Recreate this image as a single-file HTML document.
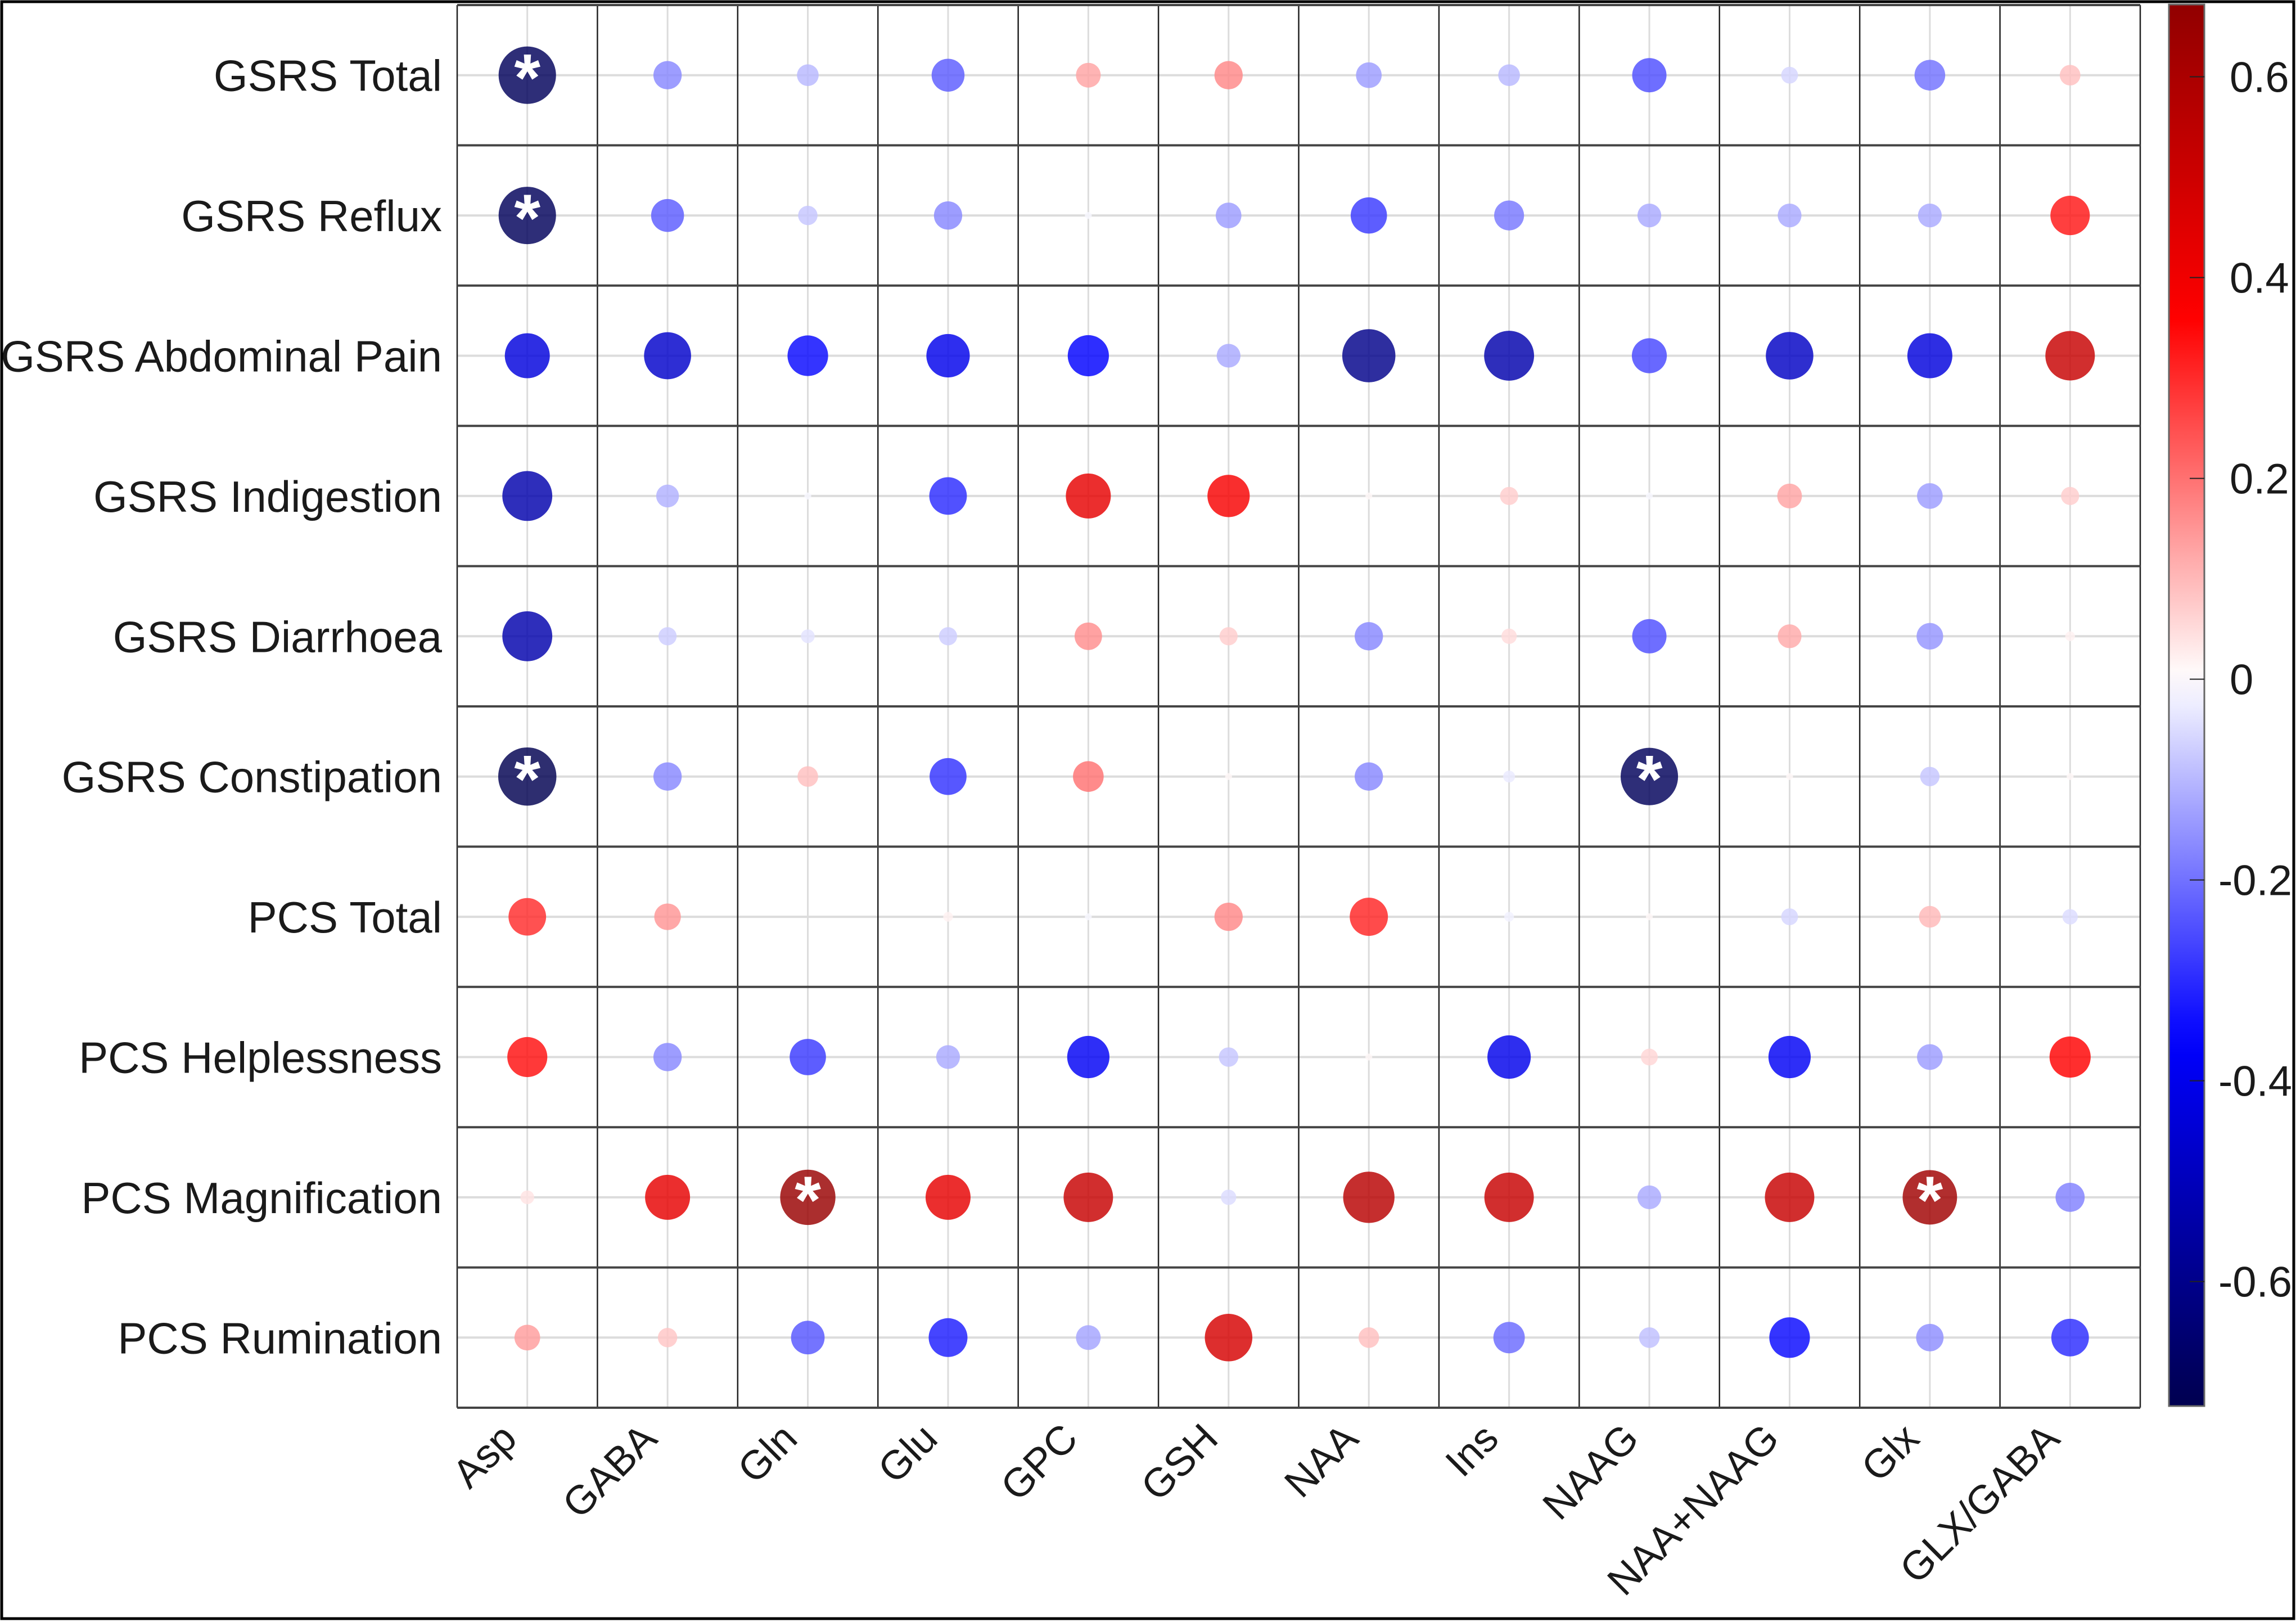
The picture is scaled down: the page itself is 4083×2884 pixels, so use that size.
<!DOCTYPE html>
<html><head><meta charset="utf-8"><style>
html,body{margin:0;padding:0;background:#fff}
svg{display:block}
text{font-family:"Liberation Sans",Arial,sans-serif;fill:#1a1a1a}
</style></head><body>
<svg id="chart" xmlns="http://www.w3.org/2000/svg" width="4083" height="2884" viewBox="0 0 4083 2884">
<rect x="0" y="0" width="4083" height="2884" fill="#fff"/>
<g id="grid"></g>
<g id="marks"></g>
<g id="labels"></g>
<g id="cbar"></g>
<rect x="3" y="3" width="4076" height="2875" fill="none" stroke="#000" stroke-width="5"/>
</svg>
<script>
const rowLabels = ["GSRS Total","GSRS Reflux","GSRS Abdominal Pain","GSRS Indigestion","GSRS Diarrhoea","GSRS Constipation","PCS Total","PCS Helplessness","PCS Magnification","PCS Rumination"];
const colLabels = ["Asp","GABA","Gln","Glu","GPC","GSH","NAA","Ins","NAAG","NAA+NAAG","Glx","GLX/GABA"];
const rGsrsTotal   = [-0.70,-0.17,-0.10,-0.23, 0.13, 0.17,-0.14,-0.10,-0.25,-0.06,-0.20, 0.09];
const rGsrsReflux  = [-0.70,-0.23,-0.08,-0.17,-0.01,-0.14,-0.28,-0.19,-0.12,-0.12,-0.12, 0.33];
const rGsrsAbd     = [-0.43,-0.47,-0.35,-0.40,-0.36,-0.12,-0.60,-0.53,-0.26,-0.48,-0.43, 0.52];
const rGsrsIndig   = [-0.53,-0.11,-0.01,-0.30, 0.43, 0.38, 0.01, 0.07,-0.01, 0.13,-0.14, 0.07];
const rGsrsDiarr   = [-0.53,-0.07,-0.04,-0.07, 0.16, 0.07,-0.17, 0.05,-0.25, 0.12,-0.15, 0.02];
const rGsrsConst   = [-0.72,-0.17, 0.09,-0.29, 0.20, 0.01,-0.17,-0.03,-0.70, 0.01,-0.08, 0.01];
const rPcsTotal    = [ 0.30, 0.15, 0.00, 0.02,-0.01, 0.17, 0.31,-0.02, 0.01,-0.06, 0.10,-0.05];
const rPcsHelp     = [ 0.34,-0.17,-0.28,-0.12,-0.38,-0.08, 0.01,-0.40, 0.06,-0.38,-0.14, 0.36];
const rPcsMagn     = [ 0.04, 0.43, 0.65, 0.43, 0.52,-0.05, 0.56, 0.52,-0.12, 0.52, 0.63,-0.18];
const rPcsRumin    = [ 0.14, 0.08,-0.24,-0.32,-0.13, 0.48, 0.09,-0.21,-0.09,-0.35,-0.16,-0.30];
const values = [rGsrsTotal,rGsrsReflux,rGsrsAbd,rGsrsIndig,rGsrsDiarr,rGsrsConst,rPcsTotal,rPcsHelp,rPcsMagn,rPcsRumin];
const sigCells = [[0,0],[1,0],[5,0],[5,8],[8,2],[8,10]];
const cbarTicks = [0.6,0.4,0.2,0,-0.2,-0.4,-0.6];
const cbarMin = -0.724, cbarMax = 0.672;

const NS="http://www.w3.org/2000/svg";
const L=813, R=3806, T=9, B=2503;
const cw=(R-L)/colLabels.length, rh=(B-T)/rowLabels.length;
const xC=i=>L+(i+0.5)*cw, yC=j=>T+(j+0.5)*rh;
const CB={x:3857,w:63,top:8,bot:2500};
const yCb=v=>CB.top+(cbarMax-v)/(cbarMax-cbarMin)*(CB.bot-CB.top);
const stops=[[-0.72,[0,0,80]],[-0.36,[0,0,255]],[0,[255,255,255]],[0.36,[255,0,0]],[0.72,[128,0,0]]];
function color(v){
  v=Math.max(-0.72,Math.min(0.72,v));
  for(let k=0;k<stops.length-1;k++){const [a,ca]=stops[k],[b,cb]=stops[k+1];
    if(v>=a&&v<=b){const t=(v-a)/(b-a);return 'rgb('+ca.map((c,i)=>Math.round(c+(cb[i]-c)*t)).join(',')+')';}}
  return '#fff';
}
function mk(tag,attrs,parent){const e=document.createElementNS(NS,tag);for(const k in attrs)e.setAttribute(k,attrs[k]);parent.appendChild(e);return e;}
const grid=document.getElementById('grid'),marks=document.getElementById('marks'),labels=document.getElementById('labels'),cbar=document.getElementById('cbar');

colLabels.forEach((c,i)=>{const e=mk('line',{x1:xC(i),x2:xC(i),y1:T,y2:B,stroke:'#dcdcdc','stroke-width':3},grid);

});
rowLabels.forEach((r,j)=>{const e=mk('line',{x1:L,x2:R,y1:yC(j),y2:yC(j),stroke:'#dcdcdc','stroke-width':4},grid);

});
for(let i=0;i<=colLabels.length;i++){const e=mk('line',{x1:L+i*cw,x2:L+i*cw,y1:T,y2:B,stroke:'#222','stroke-width':2.5},grid);

}
for(let j=0;j<=rowLabels.length;j++){const e=mk('line',{x1:L,x2:R,y1:T+j*rh,y2:T+j*rh,stroke:'#444','stroke-width':4},grid);

}

values.forEach((row,j)=>row.forEach((v,i)=>{
  const r=61*Math.sqrt(Math.abs(v));
  const c=mk('circle',{cx:xC(i),cy:yC(j),r:r,fill:color(v),'fill-opacity':0.82},marks);
  
  
}));
sigCells.forEach(([j,i])=>{
  const t=mk('text',{x:xC(i),y:yC(j)+46,'text-anchor':'middle','font-size':120,'font-weight':'bold',style:'fill:#fff'},marks);
  t.textContent='*';
  
  
});

rowLabels.forEach((s,j)=>{const t=mk('text',{x:786,y:yC(j)+28,'text-anchor':'end','font-size':78},labels);
t.textContent=s;

});
colLabels.forEach((s,i)=>{const x=xC(i)-15,y=2562;
const t=mk('text',{x:x,y:y,'text-anchor':'end','font-size':72,transform:`rotate(-45 ${x} ${y})`},labels);
t.textContent=s;

});

const defs=mk('defs',{},cbar);
const lg=mk('linearGradient',{id:'cg',x1:0,y1:0,x2:0,y2:1},defs);
for(let k=0;k<=40;k++){const v=cbarMax-(cbarMax-cbarMin)*k/40;mk('stop',{offset:(k/40),'stop-color':color(v)},lg);}
const bar=mk('rect',{x:CB.x,y:CB.top,width:CB.w,height:CB.bot-CB.top,fill:'url(#cg)',stroke:'#666','stroke-width':3},cbar);


cbarTicks.forEach(v=>{const y=yCb(v);
const l=mk('line',{x1:CB.x+CB.w-26,x2:CB.x+CB.w,y1:y,y2:y,stroke:'#222','stroke-width':2},cbar);


const t=mk('text',{x:v<0?3945:3965,y:y+27,'font-size':76},cbar);
t.textContent=v===0?'0':(v<0?'-':'')+Math.abs(v).toFixed(1);

});
</script>
</body></html>
